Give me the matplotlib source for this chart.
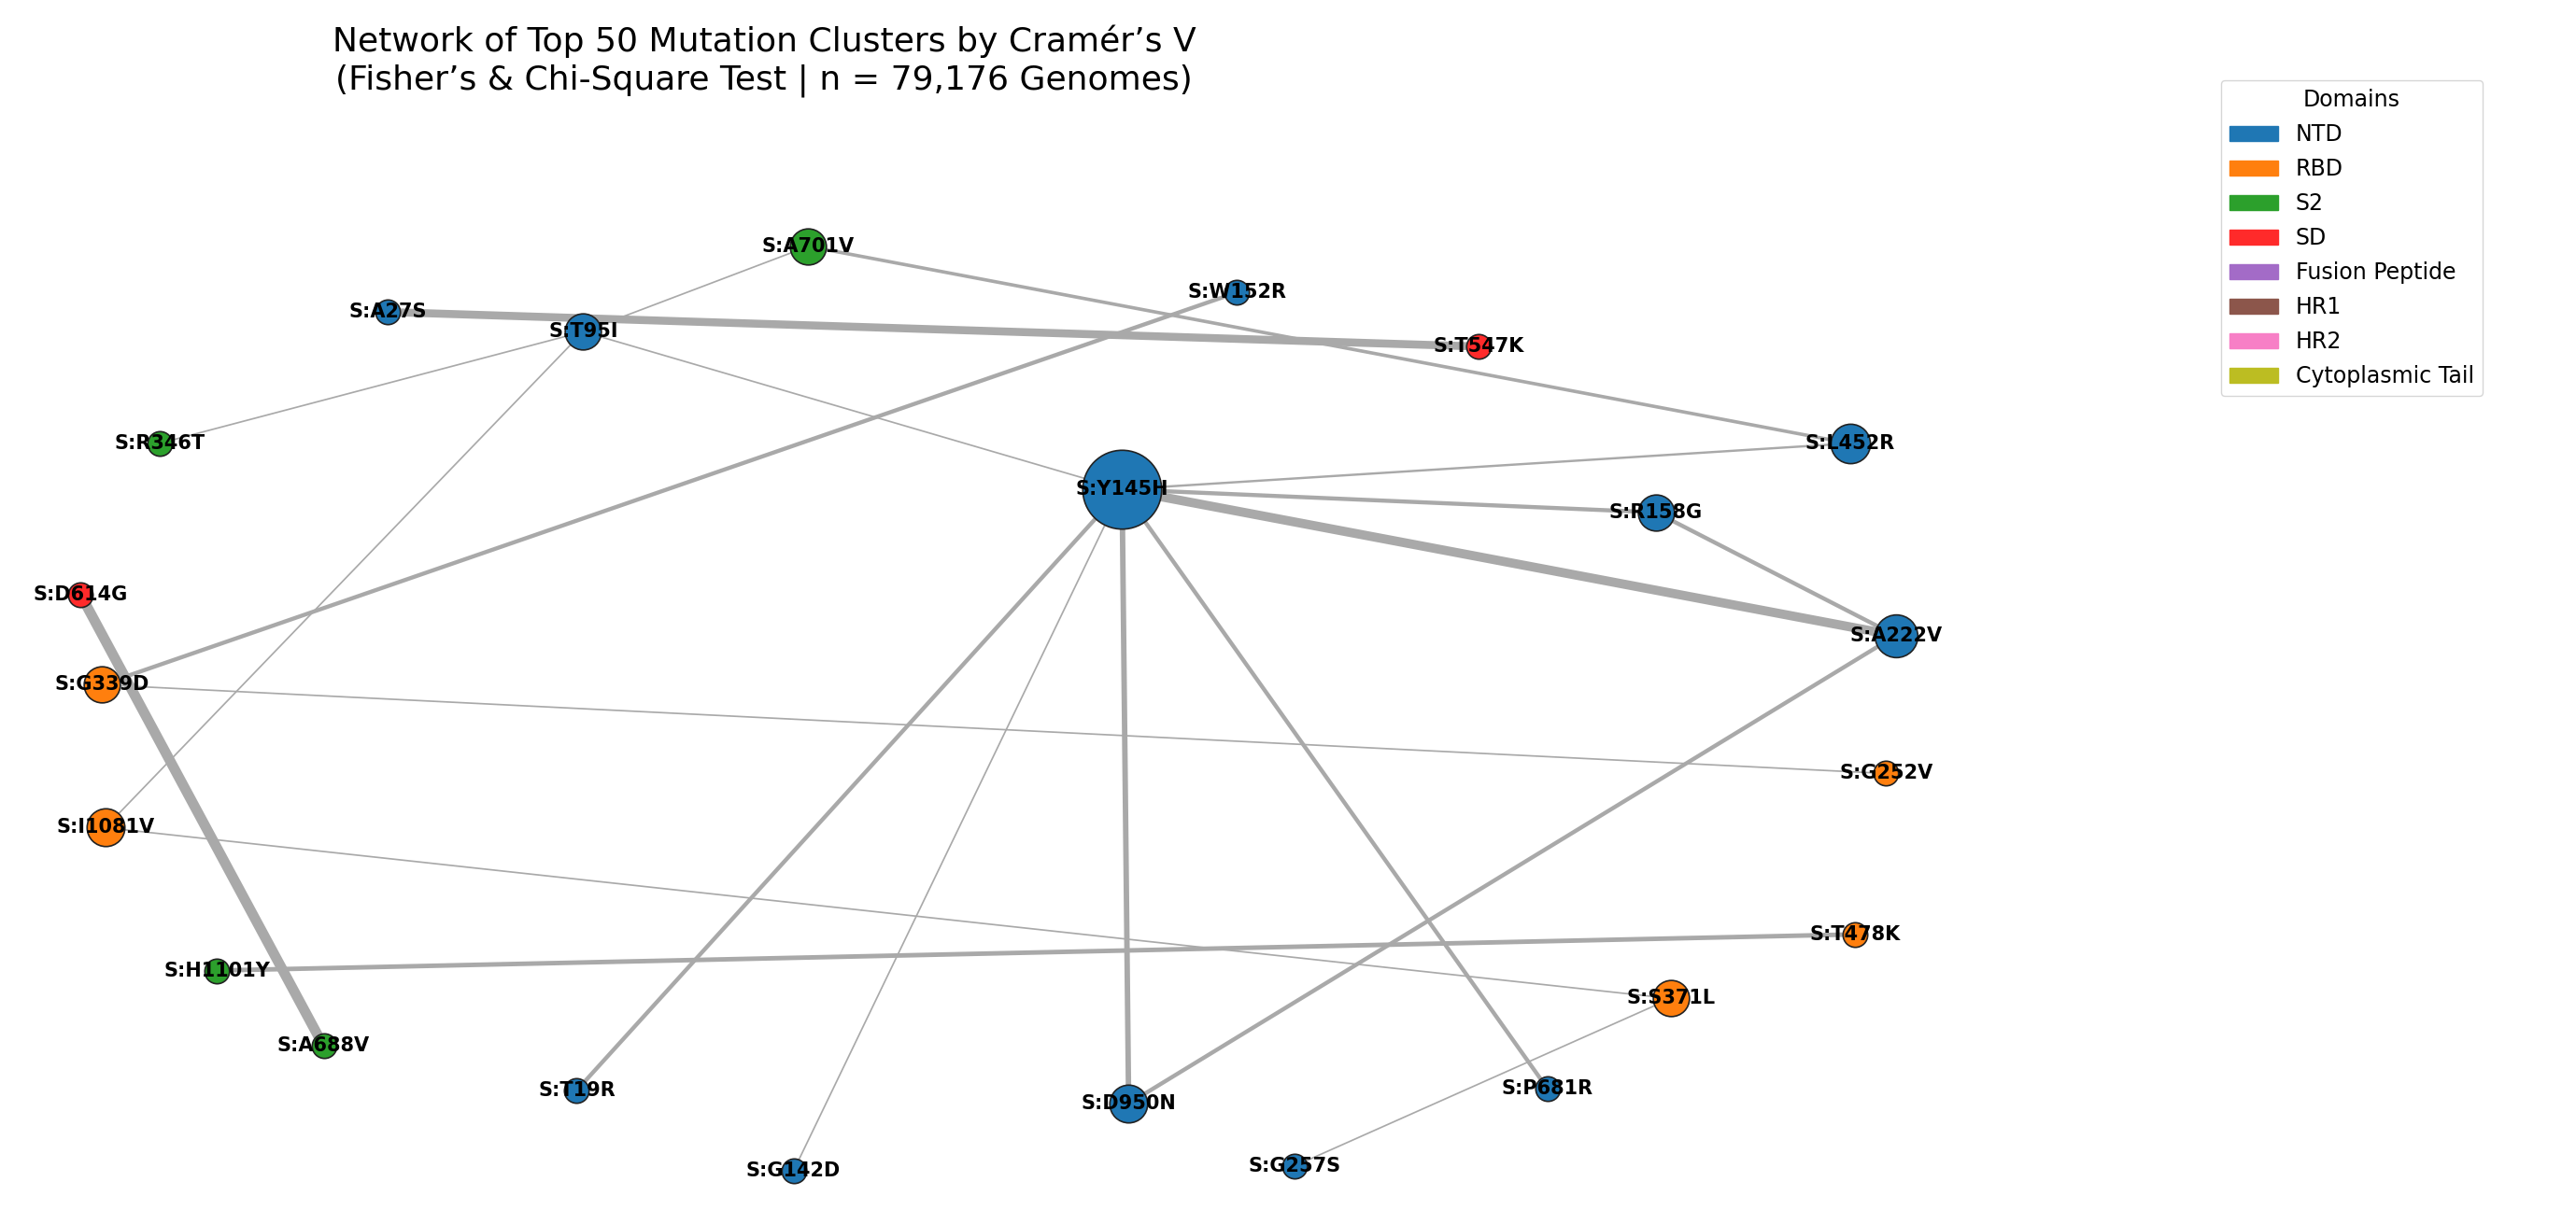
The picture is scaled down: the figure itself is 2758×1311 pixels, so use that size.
import matplotlib
matplotlib.use("Agg")
import matplotlib.pyplot as plt
from matplotlib.patches import Patch

nodes = ["S:Y145H","S:A701V","S:W152R","S:A27S","S:T95I","S:T547K","S:R346T","S:L452R",
         "S:R158G","S:D614G","S:A222V","S:G339D","S:G252V","S:I1081V","S:T478K","S:H1101Y",
         "S:S371L","S:A688V","S:T19R","S:D950N","S:P681R","S:G142D","S:G257S"]
domains = ["NTD","S2","NTD","NTD","NTD","SD","S2","NTD","NTD","SD","NTD","RBD","RBD","RBD",
           "RBD","S2","RBD","S2","NTD","NTD","NTD","NTD","NTD"]
node_size = [24,11,7.5,7.5,11,7.5,7.5,12,11,7.5,13,11,7.5,11.5,7.5,7.5,11,7.5,7.5,11.5,7.5,7.5,7.5]
edges = [("S:A27S","S:T547K",3.5),("S:A701V","S:L452R",1.5),("S:A701V","S:T95I",0.7),
         ("S:R346T","S:T95I",0.7),("S:W152R","S:G339D",1.8),("S:T95I","S:Y145H",0.7),
         ("S:T95I","S:I1081V",0.7),("S:Y145H","S:L452R",1),("S:Y145H","S:R158G",1.8),
         ("S:Y145H","S:A222V",4),("S:R158G","S:A222V",1.8),("S:Y145H","S:T19R",1.8),
         ("S:Y145H","S:G142D",0.7),("S:Y145H","S:D950N",2.4),("S:Y145H","S:P681R",1.8),
         ("S:D950N","S:A222V",1.8),("S:D614G","S:A688V",4.5),("S:G339D","S:G252V",0.7),
         ("S:I1081V","S:S371L",0.7),("S:H1101Y","S:T478K",2),("S:S371L","S:G257S",0.7)]
legend_domains = ["NTD","RBD","S2","SD","Fusion Peptide","HR1","HR2","Cytoplasmic Tail"]
domain_colors = ["#1f77b4","#ff7f0e","#2ca02c","#ff2a2a","#a36bc7","#8c564b","#f77fc6","#bcbd22"]

# layout positions (reference display units, scaled below)
pos = {"S:Y145H":(683,298),"S:A701V":(492,150),"S:W152R":(753,178),"S:A27S":(236,190),
       "S:T95I":(355,202),"S:T547K":(900,211),"S:R346T":(97,270),"S:L452R":(1126,270),
       "S:R158G":(1008,312),"S:D614G":(49,362),"S:A222V":(1154,387),"S:G339D":(62,417),
       "S:G252V":(1148,471),"S:I1081V":(64,504),"S:T478K":(1129,569),"S:H1101Y":(132,591),
       "S:S371L":(1017,608),"S:A688V":(197,637),"S:T19R":(351,664),"S:D950N":(687,672),
       "S:P681R":(942,663),"S:G142D":(483,713),"S:G257S":(788,710)}

S = 2758 / 1568
cmap = dict(zip(legend_domains, domain_colors))
fig = plt.figure(figsize=(27.58, 13.11), dpi=100)
ax = fig.add_axes([0, 0, 1, 1])
ax.set_xlim(0, 1568); ax.set_ylim(1311 / S, 0); ax.axis("off")

for a, b, w in edges:
    (x1, y1), (x2, y2) = pos[a], pos[b]
    ax.plot([x1, x2], [y1, y2], color="#a9a9a9", lw=w * S, zorder=1, solid_capstyle="butt")
for n, d, r in zip(nodes, domains, node_size):
    x, y = pos[n]
    ax.scatter([x], [y], s=(2 * r * S * 0.72) ** 2, color=cmap[d], edgecolors="#222222",
               linewidths=1.2, zorder=2)
    ax.text(x, y, n, ha="center", va="center", fontsize=15, fontweight="bold", zorder=3)

fig.text(465 / 1568, 1 - 37 / 745,
         "Network of Top 50 Mutation Clusters by Cramér’s V\n(Fisher’s & Chi-Square Test | n = 79,176 Genomes)",
         ha="center", va="center", fontsize=26, linespacing=1.25)
handles = [Patch(color=c, label=l) for l, c in zip(legend_domains, domain_colors)]
fig.legend(handles=handles, title="Domains", loc="upper left",
           bbox_to_anchor=(1345 / 1568, 1 - 42 / 745),
           fontsize=17, title_fontsize=17, handlelength=2.2, labelspacing=0.55)
fig.savefig("out.png", dpi=100)
